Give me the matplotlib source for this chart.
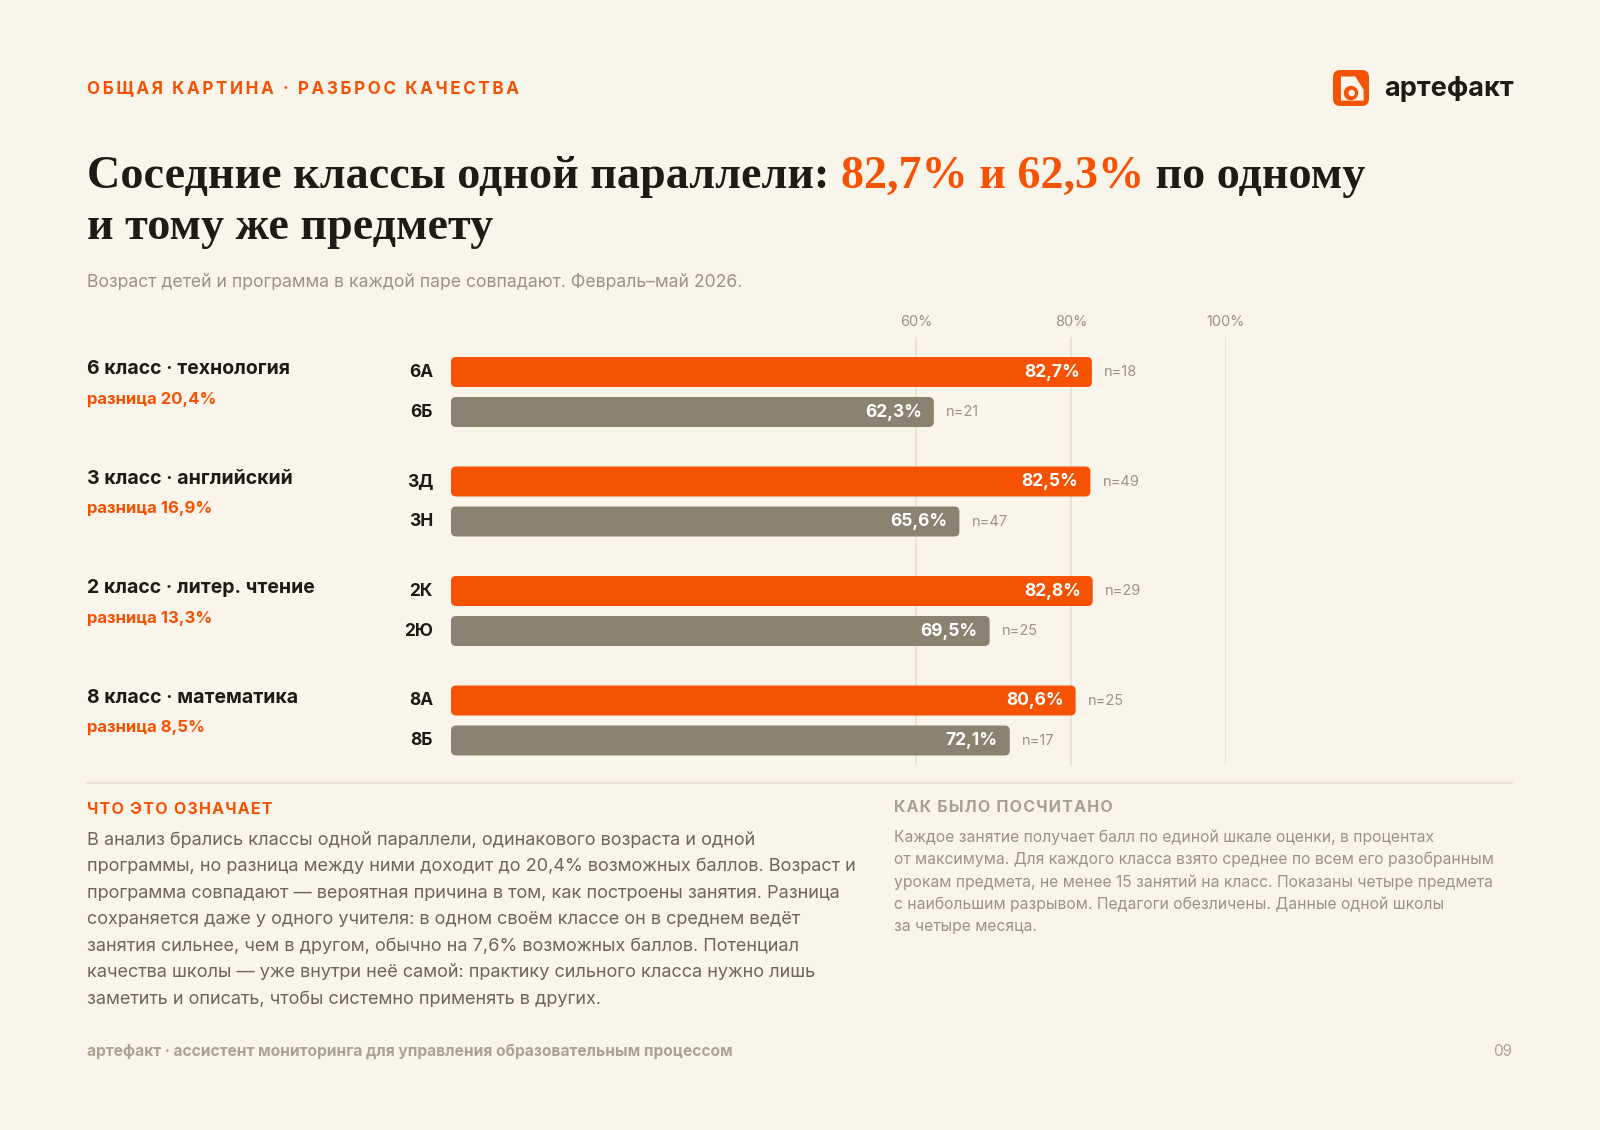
import numpy as np
import matplotlib.pyplot as plt
from matplotlib.patches import FancyBboxPatch

# data
subjects = ['6 класс · технология', '3 класс · английский', '2 класс · литер. чтение', '8 класс · математика']
class_top = ['6А', '3Д', '2К', '8А']
class_low = ['6Б', '3Н', '2Ю', '8Б']
top_vals = [82.7, 82.5, 82.8, 80.6]
low_vals = [62.3, 65.6, 69.5, 72.1]
n_top = [18, 49, 29, 25]
n_low = [21, 47, 25, 17]
grid_ticks = [60, 80, 100]

BG = '#faf5eb'
ORANGE = '#f55203'
GREY_BAR = '#8b8271'
DARK = '#1e1a15'
MUTED = '#9b9385'
BODY = '#6d665b'
LINE = '#e7dfcf'

plt.rcParams['font.family'] = ['Inter', 'DejaVu Sans']

W, H = 1600, 1130
fig = plt.figure(figsize=(W / 100, H / 100), dpi=100, facecolor=BG)


def fx(x):
    return x / W


def fy(y):
    return 1 - y / H


def pct(v):
    return f'{v:.1f}'.replace('.', ',') + '%'


# chart axes: 0..100% across x 451..1226 px, y in px from top of plot area
ax_l, ax_r, ax_t, ax_b = 451, 1226, 337, 765
ax = fig.add_axes([fx(ax_l), fy(ax_b), (ax_r - ax_l) / W, (ax_b - ax_t) / H])
ax.set_xlim(0, 100)
ax.set_ylim(ax_b - ax_t, 0)
ax.axis('off')

for t in grid_ticks:
    ax.axvline(t, color=LINE, lw=1.2, zorder=0)
    ax.annotate(f'{t}%', xy=(t, 0), xycoords='data', xytext=(0, 8), textcoords='offset pixels',
                ha='center', va='bottom', fontsize=10.5, color=MUTED)

px_x = (ax_r - ax_l) / 100.0
bar_h = 30
rad = 5
aspect = px_x  # y units are pixels


def rbar(y, v, color):
    p = FancyBboxPatch((0, y - bar_h / 2), v, bar_h,
                       boxstyle=f'round,pad=0,rounding_size={rad / px_x}',
                       mutation_aspect=aspect, fc=color, ec='none', zorder=2)
    ax.add_patch(p)


group_gap = 109.5
pair_gap = 40
for i in range(len(subjects)):
    y_a = 35 + i * group_gap
    y_b = y_a + pair_gap
    for y, v, lab, n, col in [(y_a, top_vals[i], class_top[i], n_top[i], ORANGE),
                              (y_b, low_vals[i], class_low[i], n_low[i], GREY_BAR)]:
        rbar(y, v, col)
        ax.annotate(pct(v), xy=(v, y), xytext=(-12, 0), textcoords='offset pixels',
                    ha='right', va='center', fontsize=12.5, fontweight='bold', color='white', zorder=3)
        ax.annotate(f'n={n}', xy=(v, y), xytext=(12, 0), textcoords='offset pixels',
                    ha='left', va='center', fontsize=10.5, color=MUTED)
        ax.annotate(lab, xy=(433, y), xycoords=('figure pixels', 'data'),
                    ha='right', va='center', fontsize=12.5, fontweight='bold', color=DARK)
    ax.annotate(subjects[i], xy=(87, y_a - 3), xycoords=('figure pixels', 'data'),
                ha='left', va='center', fontsize=14, fontweight='bold', color=DARK)
    diff = top_vals[i] - low_vals[i]
    ax.annotate('разница ' + pct(diff), xy=(87, y_a + 27), xycoords=('figure pixels', 'data'),
                ha='left', va='center', fontsize=12, fontweight='bold', color=ORANGE)

# kicker
fig.text(fx(87), fy(89), '\u2009'.join('ОБЩАЯ КАРТИНА · РАЗБРОС КАЧЕСТВА'), ha='left', va='center',
         fontsize=12.3, fontweight='bold', color=ORANGE)

# logo
ax_logo = fig.add_axes([fx(1333), fy(106), 36 / W, 36 / H])
ax_logo.set_xlim(0, 1)
ax_logo.set_ylim(0, 1)
ax_logo.axis('off')
ax_logo.add_patch(FancyBboxPatch((0, 0), 1, 1, boxstyle='round,pad=0,rounding_size=0.2', fc=ORANGE, ec='none'))
ax_logo.add_patch(plt.Polygon([[0.22, 0.82], [0.62, 0.82], [0.85, 0.45], [0.85, 0.15], [0.22, 0.15]],
                              closed=True, fc=BG, ec='none'))
ax_logo.add_patch(plt.Circle((0.5, 0.36), 0.2, fc=ORANGE, ec='none'))
ax_logo.add_patch(plt.Circle((0.52, 0.36), 0.09, fc=BG, ec='none'))
fig.text(fx(1384), fy(89), 'артефакт', ha='left', va='center', fontsize=19.5, fontweight='bold', color=DARK)

# title
tfont = dict(fontsize=33.2, fontweight='bold', family=['Liberation Serif', 'DejaVu Serif'])
t1 = fig.text(fx(87), fy(188), 'Соседние классы одной параллели: ', ha='left', va='baseline', color=DARK, **tfont)
t2 = ax.annotate('82,7% и 62,3%', xy=(1, 0), xycoords=t1, va='bottom', ha='left', color=ORANGE, **tfont)
ax.annotate(' по одному', xy=(1, 0), xycoords=t2, va='bottom', ha='left', color=DARK, **tfont)
fig.text(fx(87), fy(239), 'и тому же предмету', ha='left', va='baseline', color=DARK, **tfont)

fig.text(fx(87), fy(283), 'Возраст детей и программа в каждой паре совпадают. Февраль–май 2026.',
         ha='left', va='center', fontsize=12.7, color=MUTED)

# separator
fig.add_artist(plt.Line2D([fx(87), fx(1512)], [fy(783), fy(783)], color=LINE, lw=1.2))

# bottom left
fig.text(fx(87), fy(809), '\u200a'.join('ЧТО ЭТО ОЗНАЧАЕТ'), ha='left', va='center',
         fontsize=11.5, fontweight='bold', color=ORANGE)
left_lines = [
    'В анализ брались классы одной параллели, одинакового возраста и одной',
    'программы, но разница между ними доходит до 20,4% возможных баллов. Возраст и',
    'программа совпадают — вероятная причина в том, как построены занятия. Разница',
    'сохраняется даже у одного учителя: в одном своём классе он в среднем ведёт',
    'занятия сильнее, чем в другом, обычно на 7,6% возможных баллов. Потенциал',
    'качества школы — уже внутри неё самой: практику сильного класса нужно лишь',
    'заметить и описать, чтобы системно применять в других.',
]
for k, line in enumerate(left_lines):
    fig.text(fx(87), fy(840 + k * 26.6), line, ha='left', va='center', fontsize=13.05, color=BODY)

# bottom right
fig.text(fx(894), fy(807), '\u200a'.join('КАК БЫЛО ПОСЧИТАНО'), ha='left', va='center',
         fontsize=11.5, fontweight='bold', color='#a89f8f')
right_lines = [
    'Каждое занятие получает балл по единой шкале оценки, в процентах',
    'от максимума. Для каждого класса взято среднее по всем его разобранным',
    'урокам предмета, не менее 15 занятий на класс. Показаны четыре предмета',
    'с наибольшим разрывом. Педагоги обезличены. Данные одной школы',
    'за четыре месяца.',
]
for k, line in enumerate(right_lines):
    fig.text(fx(894), fy(837 + k * 22.4), line, ha='left', va='center', fontsize=11.3, color=MUTED)

# footer
fig.text(fx(87), fy(1051), 'артефакт · ассистент мониторинга для управления образовательным процессом',
         ha='left', va='center', fontsize=11.2, fontweight='bold', color='#aba391')
fig.text(fx(1512), fy(1051), '09', ha='right', va='center', fontsize=11, color='#aba391')

fig.savefig('out.png', dpi=100, facecolor=BG)
